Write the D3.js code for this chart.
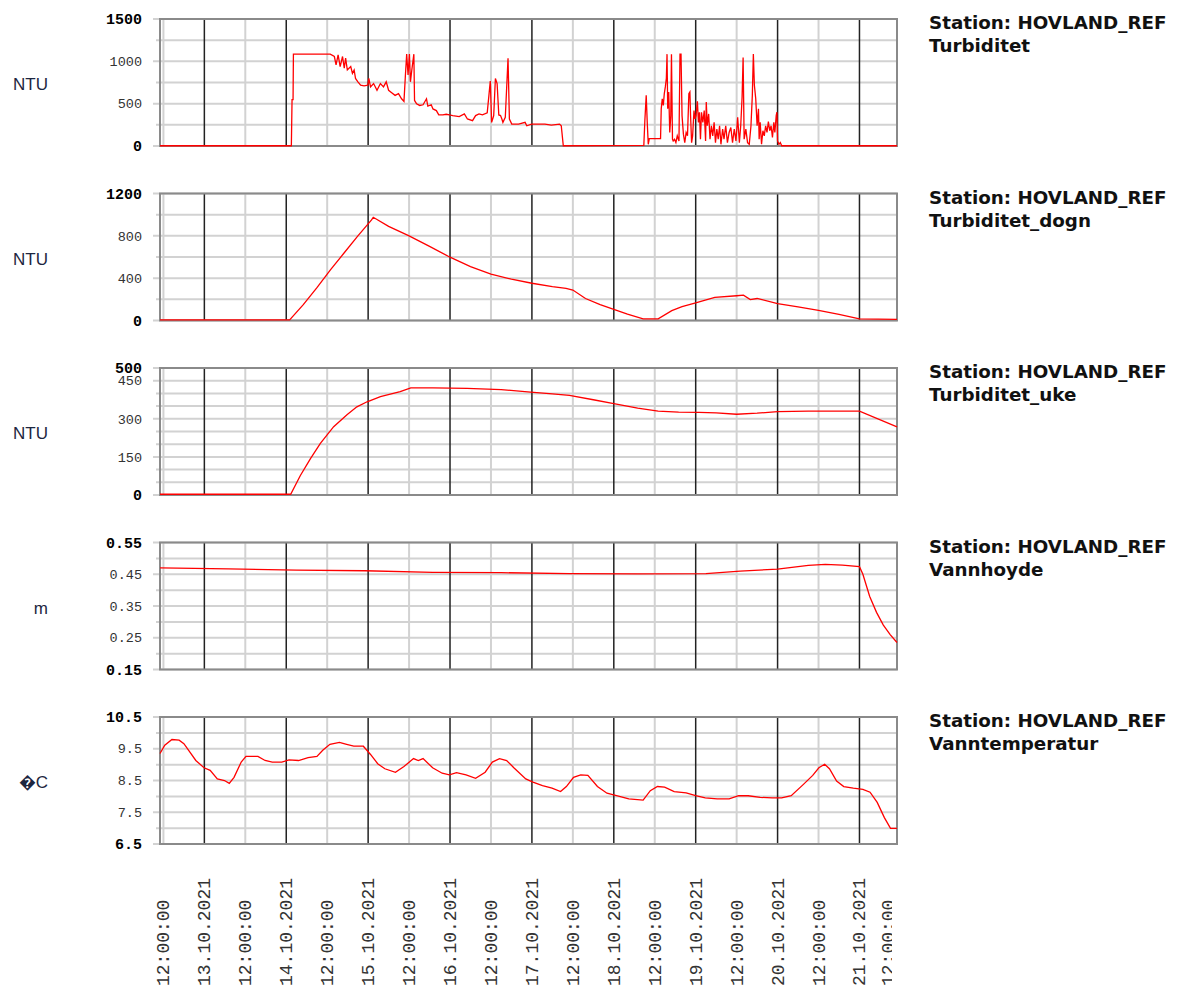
<!DOCTYPE html>
<html>
<head>
<meta charset="utf-8">
<script src="https://cdn.jsdelivr.net/npm/d3@7"></script>
<style>
  body { margin: 0; background: #fff; }
</style>
</head>
<body>
<script>
// time range of the plot (hours are counted from start)
const start = new Date(2021, 9, 12, 11, 0);
const end = new Date(2021, 9, 21, 11, 0);

// panel texts
const stationName = "Station: HOVLAND_REF";
const panelTitles = ["Turbiditet", "Turbiditet_dogn", "Turbiditet_uke", "Vannhoyde", "Vanntemperatur"];
const panelUnits = ["NTU", "NTU", "NTU", "m", "\uFFFDC"];
const yDomains = [[0, 1500], [0, 1200], [0, 500], [0.15, 0.55], [6.5, 10.5]];
const yLabelTicks = [[0, 500, 1000, 1500], [0, 400, 800, 1200], [0, 150, 300, 450, 500],
                     [0.15, 0.25, 0.35, 0.45, 0.55], [6.5, 7.5, 8.5, 9.5, 10.5]];
const yGridSteps = [250, 200, 50, 0.05, 0.5];
const yFormats = ["d", "d", "d", ".2f", ".1f"];

// Turbiditet (raw)
const turbHours = [0, 38.5, 38.7, 39.0, 39.1, 49.9, 51.1, 51.6, 52.2, 52.8, 53.5, 54.0, 54.4, 54.9, 55.9, 56.4,
  56.9, 57.3, 58.0, 58.8, 59.8, 60.9, 61.2, 61.7, 62.6, 63.6, 64.6, 65.5, 66.3, 67.0, 67.9, 68.9, 69.9, 70.8,
  71.5, 71.9, 72.3, 72.7, 73.1, 73.4, 73.8, 74.4, 74.6, 75.2, 76.1, 77.1, 78.1, 78.5, 79.5, 80.0, 81.0, 81.7,
  82.9, 83.9, 84.8, 85.8, 87.7, 89.2, 90.1, 91.6, 92.5, 93.5, 94.5, 95.9, 96.4, 96.8, 97.2, 97.8, 98.3, 98.8,
  99.3, 99.8, 100.2, 100.5, 101.2, 102.0, 102.4, 103.1, 105.1, 107.0, 107.5, 108.9, 110.8, 112.8, 114.7, 117.1,
  117.6, 118.2, 141.8, 142.1, 142.5, 142.8, 143.1, 143.4, 146.7, 146.9, 147.2, 147.5, 147.8, 148.1, 148.4,
  148.6, 148.8, 149.1, 149.4, 149.7, 149.9, 150.2, 150.4, 150.8, 151.2, 151.6, 152.1, 152.4, 152.7, 153.0,
  153.4, 153.8, 154.2, 154.6, 155.0, 155.3, 155.5, 155.8, 156.1, 156.5, 156.8, 157.1, 157.5, 157.8, 158.1,
  158.4, 158.7, 159.1, 159.5, 159.9, 160.1, 160.4, 160.8, 161.2, 161.6, 162.0, 162.4, 162.8, 163.2, 163.6,
  164.0, 164.4, 164.9, 165.3, 165.8, 166.3, 166.8, 167.3, 167.8, 168.3, 168.8, 169.3, 169.8, 170.2, 170.6,
  170.9, 171.2, 171.7, 172.2, 172.7, 173.2, 173.6, 173.9, 174.2, 174.6, 175.0, 175.4, 175.6, 175.9, 176.3,
  176.7, 177.1, 177.5, 177.9, 178.3, 178.7, 179.1, 179.5, 179.9, 180.2, 180.6, 180.8, 181.0, 181.4, 181.8,
  182.2, 216];
const turbValues = [3, 3, 547, 547, 1085, 1085, 1057, 958, 1077, 938, 1057, 918, 1037, 898, 938, 858,
  898, 798, 758, 718, 710, 718, 798, 698, 738, 658, 738, 698, 758, 658, 630, 598, 618, 558,
  527, 818, 1085, 838, 1085, 758, 898, 1085, 538, 498, 479, 487, 558, 470, 487, 438, 418, 367,
  367, 375, 367, 359, 347, 379, 319, 299, 359, 379, 367, 391, 598, 766, 279, 359, 798, 738,
  367, 359, 319, 279, 339, 1037, 319, 259, 259, 279, 239, 259, 259, 259, 247, 259,
  239, 3, 8, 299, 598, 279, 20, 88, 88, 439, 558, 479, 618, 698, 798,
  1085, 439, 638, 160, 359, 1085, 80, 60, 80, 40, 120, 60, 1085, 1085, 359,
  140, 40, 160, 120, 618, 638, 359, 40, 120, 419, 319, 359, 527, 279, 399,
  80, 399, 279, 419, 60, 519, 239, 379, 80, 239, 120, 279, 40, 199, 80,
  239, 20, 199, 80, 239, 40, 160, 219, 40, 199, 60, 339, 40, 239, 579,
  1045, 80, 199, 40, 20, 239, 598, 1085, 718, 558, 239, 439, 80, 279, 20,
  180, 120, 239, 160, 287, 180, 239, 100, 279, 160, 359, 399, 60, 20, 40,
  3, 3];

// Turbiditet_dogn
const dognHours = [0, 38, 42, 46, 50, 54, 58, 62, 62.5, 67, 73, 79, 85, 91, 97, 103, 109, 115, 119, 121,
  124.7, 129, 133, 137, 141.6, 146, 150, 153, 157, 162.6, 169, 171, 173, 175, 181, 187, 193, 199, 205, 216];
const dognValues = [5, 5, 150, 310, 480, 640, 800, 950, 975, 890, 800, 700, 598, 510, 438, 390, 352, 320, 304, 288,
  208, 150, 106, 60, 16, 16, 93, 130, 166, 218, 234, 240, 198, 208, 160, 128, 96, 58, 16, 10];

// Turbiditet_uke
const ukeHours = [0, 38.3, 41.1, 44.1, 47.0, 50.9, 54.8, 57.7, 60.7, 64.6, 70.4, 73.5, 80, 90, 100, 108.6,
  115, 120, 127, 133, 140, 146, 152, 158, 163, 169, 175, 181, 190, 200, 205, 216];
const ukeValues = [3, 3, 76, 143, 203, 269, 316, 347, 367, 387, 407, 422, 422, 420, 415, 405,
  398, 392, 375, 360, 342, 330, 326, 325, 323, 318, 322, 328, 330, 330, 330, 268];

// Vannhoyde
const vannHours = [0, 20, 40, 60, 80, 100, 120, 140, 160, 170, 181, 190, 195, 200, 205, 206, 208, 210, 212, 214, 216];
const vannValues = [0.470, 0.467, 0.463, 0.461, 0.456, 0.455, 0.452, 0.451, 0.452, 0.460, 0.466, 0.478, 0.481,
  0.479, 0.474, 0.450, 0.380, 0.330, 0.290, 0.260, 0.235];

// Vanntemperatur
const tempHours = [0, 1.4, 3.5, 5.6, 7.0, 8.4, 10.5, 12.9, 14.7, 16.8, 18.9, 20.3, 21.7, 23.8, 25.2, 28.7,
  30.8, 32.9, 35.7, 37.8, 40.6, 43.4, 46.0, 47.7, 49.8, 52.6, 54.7, 56.8, 59.6, 61.7, 63.8, 65.9, 69.0,
  71.5, 74.3, 75.7, 77.1, 79.9, 82.7, 84.8, 86.9, 89.7, 92.5, 95.3, 97.4, 99.5, 101.6, 103.7, 107.2, 109.3,
  112.1, 114.9, 117.4, 119.1, 121.2, 123.3, 125.4, 128.2, 131.0, 133.8, 137.4, 141.6, 143.7, 145.8, 147.9,
  150.7, 154.2, 157.0, 159.8, 163.3, 166.8, 169.6, 172.4, 175.9, 179.4, 182.2, 185.0, 188.5, 191.3, 193.1,
  194.8, 196.2, 198.3, 200.4, 203.2, 206.0, 208.1, 210.2, 212.3, 214.1, 216];
const tempValues = [9.35, 9.61, 9.79, 9.77, 9.66, 9.45, 9.13, 8.90, 8.82, 8.55, 8.50, 8.41, 8.60, 9.08, 9.26, 9.26,
  9.13, 9.08, 9.08, 9.15, 9.13, 9.22, 9.26, 9.45, 9.64, 9.70, 9.64, 9.58, 9.58, 9.32, 9.03, 8.87, 8.76,
  8.94, 9.19, 9.13, 9.19, 8.90, 8.73, 8.68, 8.75, 8.68, 8.57, 8.76, 9.08, 9.19, 9.13, 8.90, 8.55, 8.45,
  8.34, 8.26, 8.15, 8.31, 8.60, 8.68, 8.66, 8.31, 8.10, 8.02, 7.92, 7.88, 8.18, 8.31, 8.29,
  8.15, 8.11, 8.02, 7.95, 7.92, 7.92, 8.02, 8.02, 7.97, 7.95, 7.95, 8.02, 8.37, 8.66, 8.90,
  9.01, 8.87, 8.48, 8.31, 8.26, 8.22, 8.13, 7.81, 7.33, 6.99, 6.99];

const seriesHours = [turbHours, dognHours, ukeHours, vannHours, tempHours];
const seriesValues = [turbValues, dognValues, ukeValues, vannValues, tempValues];

// layout
const width = 1179, height = 992;
const plot = { left: 160, right: 897, top: 19, step: 174.5, height: 127 };

const svg = d3.select("body").append("svg")
  .attr("width", width)
  .attr("height", height)
  .style("font-family", "'Liberation Mono', monospace");

const x = d3.scaleTime().domain([start, end]).range([plot.left, plot.right]);
const halfDays = d3.timeHour.every(12).range(start, d3.timeHour.offset(end, 2));
const toDate = h => new Date(start.getTime() + h * 3600e3);

panelTitles.forEach(function (title, i) {
  const top = plot.top + i * plot.step;
  const bottom = top + plot.height;
  const y = d3.scaleLinear().domain(yDomains[i]).range([bottom, top]);
  const g = svg.append("g");
  const fmt = d3.format(yFormats[i]);

  // horizontal grid
  const step = yGridSteps[i];
  const n = Math.round((yDomains[i][1] - yDomains[i][0]) / step);
  const grid = d3.range(n + 1).map(k => yDomains[i][0] + k * step);
  g.selectAll(".hgrid").data(grid).enter().append("line")
    .attr("x1", d => yLabelTicks[i].some(t => Math.abs(t - d) < 1e-9) ? plot.left - 7 : plot.left - 4)
    .attr("x2", plot.right)
    .attr("y1", d => y(d)).attr("y2", d => y(d))
    .attr("stroke", "#d2d2d2").attr("stroke-width", 2);

  // vertical grid: noon grey, midnight black
  const inside = halfDays.filter(t => t < end);
  g.selectAll(".vgrid").data(inside).enter().append("line")
    .attr("x1", d => x(d)).attr("x2", d => x(d))
    .attr("y1", top).attr("y2", bottom)
    .attr("stroke", d => d.getHours() === 0 ? "#222" : "#d2d2d2")
    .attr("stroke-width", d => d.getHours() === 0 ? 1.5 : 2);

  // frame
  g.append("rect")
    .attr("x", plot.left).attr("y", top)
    .attr("width", plot.right - plot.left).attr("height", plot.height)
    .attr("fill", "none").attr("stroke", "#8a8a8a").attr("stroke-width", 2);

  // data line
  const pts = seriesHours[i].map((h, k) => [toDate(h), seriesValues[i][k]]);
  g.append("path")
    .datum(pts)
    .attr("fill", "none")
    .attr("stroke", "#ff0000")
    .attr("stroke-width", 1.3)
    .attr("d", d3.line().x(d => x(d[0])).y(d => y(d[1])));

  // tick labels
  const lastTick = yLabelTicks[i].length - 1;
  g.selectAll(".ylab").data(yLabelTicks[i]).enter().append("text")
    .attr("x", 142)
    .attr("y", d => y(d))
    .attr("dy", "0.35em")
    .attr("text-anchor", "end")
    .attr("font-size", (d, k) => (k === 0 || k === lastTick) ? 15 : 13.5)
    .attr("font-weight", (d, k) => (k === 0 || k === lastTick) ? "bold" : "normal")
    .attr("fill", (d, k) => (k === 0 || k === lastTick) ? "#000" : "#333")
    .text(d => fmt(d));

  // unit
  g.append("text")
    .attr("x", 48).attr("y", (top + bottom) / 2 + 2)
    .attr("dy", "0.35em")
    .attr("text-anchor", "end")
    .style("font-family", "'Liberation Sans', Arial, sans-serif")
    .attr("font-size", 17)
    .attr("fill", "#1d2640")
    .text(panelUnits[i]);

  // title
  const t = g.append("text")
    .attr("x", 929).attr("y", top + 10)
    .style("font-family", "'DejaVu Sans', Verdana, sans-serif")
    .attr("font-size", 18.3)
    .attr("font-weight", "bold")
    .attr("fill", "#111");
  t.append("tspan").attr("x", 929).text(stationName);
  t.append("tspan").attr("x", 929).attr("dy", 23).text(title);
});

// x labels, rotated, clipped at the right edge of the plot
svg.append("clipPath").attr("id", "xclip")
  .append("rect").attr("x", 0).attr("y", 850).attr("width", plot.right - 5).attr("height", 150);

svg.append("g").attr("clip-path", "url(#xclip)")
  .selectAll("text").data(halfDays).enter().append("text")
  .attr("transform", d => "translate(" + (Math.min(x(d), plot.right - 9) + 6) + ",986) rotate(-90)")
  .attr("font-size", 18)
  .attr("fill", "#333")
  .text(d => d.getHours() === 0 ? d3.timeFormat("%d.%m.%Y")(d) : d3.timeFormat("%H:%M:%S")(d));
</script>
</body>
</html>
